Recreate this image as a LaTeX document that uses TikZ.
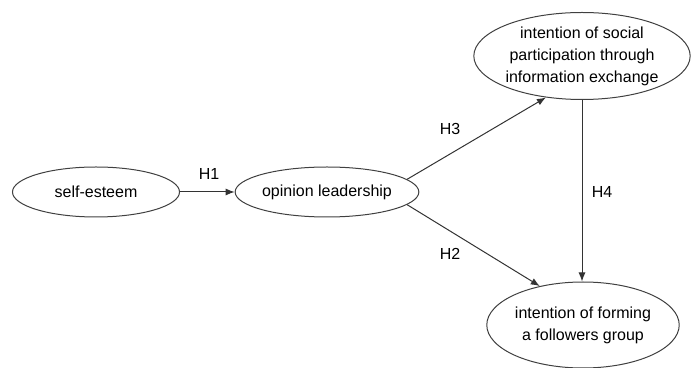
\documentclass[tikz,border=0pt]{standalone}
\usepackage{fontspec}
\setmainfont{Liberation Sans}
\usepackage{tikz}
\usetikzlibrary{positioning,shapes.geometric,arrows.meta}

\begin{document}
\begin{tikzpicture}[x=0.5pt,y=-0.5pt,
% styles
ovalnode/.style={ellipse, draw=black!75, line width=0.5pt, inner sep=0pt, align=center, font=\fontsize{8}{11}\selectfont},
pathline/.style={draw=black!80, line width=0.5pt, -{Latex[length=4.5pt,width=3.5pt]}},
hlabel/.style={font=\fontsize{8}{9.6}\selectfont},
]
\useasboundingbox (0,0) rectangle (696,368);
% nodes
\node[ovalnode, minimum width=83.5pt, minimum height=25pt]  (esteem)  at (96,192)  {self-esteem};
\node[ovalnode, minimum width=82.5pt, minimum height=25pt]  (leader)  at (327,192) {opinion leadership};
\node[ovalnode, minimum width=106.5pt, minimum height=43.5pt] (social) at (582,56)  {intention of social\\participation through\\information exchange};
\node[ovalnode, minimum width=91.5pt, minimum height=43pt]  (group)   at (583,325) {intention of forming\\a followers group};

% lines
\draw[pathline] (esteem) -- (leader);
\draw[pathline] (leader.9) -- (social.229);
\draw[pathline] (leader.-9) -- (group.138);
\draw[pathline] (social.south) -- (social.south |- group.north);

% labels
\node[hlabel] (h1) at (209,174) {H1};
\node[hlabel] (h3) at (450,129) {H3};
\node[hlabel] (h2) at (450,254) {H2};
\node[hlabel] (h4) at (602,192) {H4};
\end{tikzpicture}
\end{document}
